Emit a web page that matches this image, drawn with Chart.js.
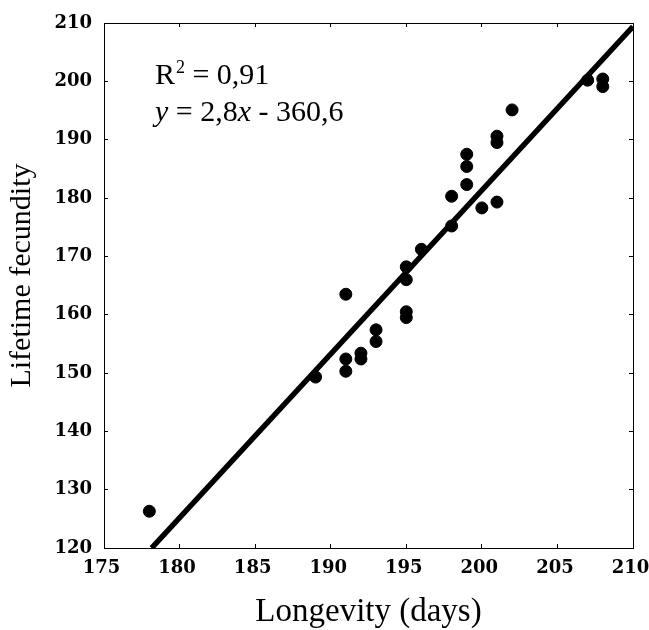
<!DOCTYPE html>
<html>
<head>
<meta charset="utf-8">
<script src="https://cdn.jsdelivr.net/npm/chart.js@4"></script>
<style>
  html, body { margin: 0; padding: 0; background: #fff; }
  #c { display: block; }
</style>
</head>
<body>
<canvas id="c" width="649" height="630"></canvas>
<script>
// Data
const longevity = [178, 189, 191, 191, 191, 192, 192, 193, 193, 195, 195, 195, 195, 196,
                   198, 198, 199, 199, 199, 200, 201, 201, 201, 202, 207, 208, 208];
const fecundity = [126.3, 149.3, 163.5, 152.4, 150.3, 153.4, 152.4, 157.4, 155.4, 168.2, 166.0, 160.5, 159.5, 171.2,
                   180.3, 175.2, 187.5, 185.4, 182.3, 178.3, 190.6, 189.5, 179.3, 195.1, 200.2, 200.4, 199.1];
// Fitted line as drawn in the picture (end points)
const fitX = [178.15, 210];
const fitY = [120, 209.4];
// Axis ranges / ticks
const xTicks = [175, 180, 185, 190, 195, 200, 205, 210];
const yTicks = [120, 130, 140, 150, 160, 170, 180, 190, 200, 210];
const xTitle = 'Longevity (days)';
const yTitle = 'Lifetime fecundity';
const r2Text = ['R', '2', ' = 0,91'];
const eqText = [['y', true], [' = 2,8', false], ['x', true], [' - 360,6', false]];
const annPos = {x: 178.37, y1: 199.5, y2: 193.2};

const scatterPts = longevity.map((v, i) => ({x: v, y: fecundity[i]}));
const fitPts = fitX.map((v, i) => ({x: v, y: fitY[i]}));

const tickFont = {family: '"DejaVu Serif", serif', size: 18, weight: 'bold'};
const serif = '"Liberation Serif", "Times New Roman", serif';

const annotationPlugin = {
  id: 'annot',
  afterDatasetsDraw(chart) {
    const ctx = chart.ctx;
    const sx = chart.scales.x, sy = chart.scales.y;
    const x0 = sx.getPixelForValue(annPos.x);
    const yA = sy.getPixelForValue(annPos.y1);
    const yB = sy.getPixelForValue(annPos.y2);
    ctx.save();
    ctx.fillStyle = '#000';
    ctx.textBaseline = 'alphabetic';
    ctx.textAlign = 'left';
    let x = x0;
    ctx.font = '30px ' + serif;
    ctx.fillText(r2Text[0], x, yA);
    x += ctx.measureText(r2Text[0]).width + 1;
    ctx.font = '18px ' + serif;
    ctx.fillText(r2Text[1], x, yA - 11);
    x += ctx.measureText(r2Text[1]).width;
    ctx.font = '30px ' + serif;
    ctx.fillText(r2Text[2], x, yA);
    x = x0;
    eqText.forEach(([t, it]) => {
      ctx.font = (it ? 'italic ' : '') + '30px ' + serif;
      ctx.fillText(t, x, yB);
      x += ctx.measureText(t).width;
    });
    ctx.restore();
  },
  afterDraw(chart) {
    // vertical axis title, a little above the plot's middle as in the reference
    const ctx = chart.ctx;
    const a = chart.chartArea;
    ctx.save();
    ctx.translate(22.5, (a.top + a.bottom) / 2 - 10);
    ctx.rotate(-Math.PI / 2);
    ctx.font = '30px ' + serif;
    ctx.fillStyle = '#000';
    ctx.textAlign = 'center';
    ctx.textBaseline = 'middle';
    ctx.fillText(yTitle, 0, 0);
    ctx.restore();
  }
};

function noPad(s) { s.paddingLeft = 0; s.paddingRight = 0; s.paddingTop = 0; s.paddingBottom = 0; }

new Chart(document.getElementById('c'), {
  type: 'scatter',
  data: {
    datasets: [
      {
        label: 'data',
        data: scatterPts,
        backgroundColor: '#000',
        borderColor: '#000',
        borderWidth: 1,
        pointRadius: 6,
        pointHoverRadius: 6,
        xAxisID: 'x', yAxisID: 'y'
      },
      {
        label: 'fit',
        type: 'line',
        data: fitPts,
        borderColor: '#000',
        borderWidth: 5.5,
        pointRadius: 0,
        fill: false,
        xAxisID: 'x', yAxisID: 'y'
      }
    ]
  },
  options: {
    responsive: false,
    animation: false,
    events: [],
    layout: {padding: {top: 23, right: 16, left: 0, bottom: 0}},
    plugins: {legend: {display: false}, tooltip: {enabled: false}},
    scales: {
      x: {
        type: 'linear', position: 'bottom', min: xTicks[0], max: xTicks[xTicks.length - 1],
        afterBuildTicks: s => { s.ticks = xTicks.map(v => ({value: v})); },
        afterFit: s => { s.height = 82; noPad(s); },
        ticks: {font: tickFont, color: '#000', padding: 14, labelOffset: -2.5, maxRotation: 0, autoSkip: false,
                callback: v => String(v)},
        grid: {drawOnChartArea: false, drawTicks: true, tickLength: -4, color: '#000', lineWidth: 1},
        border: {display: true, color: '#000', width: 1},
        title: {display: true, text: xTitle, color: '#000',
                font: {family: serif, size: 33, lineHeight: 1}, padding: {top: 0, bottom: 1}}
      },
      y: {
        type: 'linear', position: 'left', min: yTicks[0], max: yTicks[yTicks.length - 1],
        afterBuildTicks: s => { s.ticks = yTicks.map(v => ({value: v})); },
        afterFit: s => { s.width = 104; noPad(s); },
        ticks: {font: tickFont, color: '#000', padding: 16, autoSkip: false,
                callback: v => String(v)},
        grid: {drawOnChartArea: false, drawTicks: true, tickLength: -4, color: '#000', lineWidth: 1},
        border: {display: true, color: '#000', width: 1},
        title: {display: false, text: yTitle}
      },
      x2: {
        type: 'linear', axis: 'x', position: 'top', min: xTicks[0], max: xTicks[xTicks.length - 1],
        afterBuildTicks: s => { s.ticks = xTicks.map(v => ({value: v})); },
        afterFit: s => { s.height = 0; noPad(s); },
        ticks: {display: false},
        grid: {drawOnChartArea: false, drawTicks: true, tickLength: -4, color: '#000', lineWidth: 1},
        border: {display: true, color: '#000', width: 1}
      },
      y2: {
        type: 'linear', axis: 'y', position: 'right', min: yTicks[0], max: yTicks[yTicks.length - 1],
        afterBuildTicks: s => { s.ticks = yTicks.map(v => ({value: v})); },
        afterFit: s => { s.width = 0; noPad(s); },
        ticks: {display: false},
        grid: {drawOnChartArea: false, drawTicks: true, tickLength: -4, color: '#000', lineWidth: 1},
        border: {display: true, color: '#000', width: 1}
      }
    }
  },
  plugins: [annotationPlugin]
});
</script>
</body>
</html>
